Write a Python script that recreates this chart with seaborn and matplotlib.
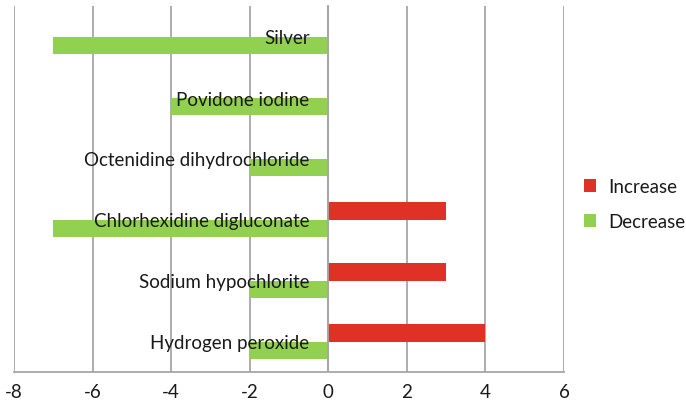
import numpy as np
import pandas as pd
import matplotlib
matplotlib.use('Agg')
import matplotlib.pyplot as plt
import seaborn as sns

# data (top to bottom as shown)
categories = ['Silver', 'Povidone iodine', 'Octenidine dihydrochloride',
              'Chlorhexidine digluconate', 'Sodium hypochlorite', 'Hydrogen peroxide']
increase = [0, 0, 0, 3, 3, 4]
decrease = [-7, -4, -2, -7, -2, -2]
series = ['Increase', 'Decrease']
colors = ['#E03127', '#92D050']
xticks = [-8, -6, -4, -2, 0, 2, 4, 6]

sns.set_style('white')
plt.rcParams['font.family'] = ['Lato', 'DejaVu Sans']
FS = 13.5

df = pd.DataFrame({
    'category': categories * 2,
    'value': increase + decrease,
    'series': ['Increase'] * len(categories) + ['Decrease'] * len(categories),
})

fig = plt.figure(figsize=(6.86, 4.10), dpi=100)
ax = fig.add_axes([14/686, 1 - 373/410, (564 - 14)/686, (373 - 7)/410])

sns.barplot(data=df, y='category', x='value', hue='series', order=categories,
            hue_order=series, palette=colors, orient='h', width=0.56, gap=0,
            saturation=1, edgecolor='none', ax=ax, zorder=2)

ax.set_xlim(-8, 6)
ax.set_ylim(len(categories) - 0.5, -0.5)
ax.set_xticks(xticks)
ax.set_xticklabels([str(v) for v in xticks])
ax.set_xlabel('')
ax.set_ylabel('')

# vertical gridlines behind bars, category axis + labels on top
ax.grid(axis='x', color='#A6A6A6', lw=1.3)
ax.set_axisbelow(True)
ax.yaxis.set_zorder(5)

# category axis sits at x = 0
for s in ['top', 'right']:
    ax.spines[s].set_visible(False)
ax.spines['left'].set_position(('data', 0))
ax.spines['left'].set_color('#A6A6A6')
ax.spines['left'].set_linewidth(1.3)
ax.spines['left'].set_zorder(3)
ax.spines['bottom'].set_color('#A6A6A6')
ax.spines['bottom'].set_linewidth(1.3)

ax.set_yticks(np.arange(len(categories)))
ax.set_yticks(np.arange(len(categories) + 1) - 0.5, minor=True)
ax.tick_params(axis='y', which='major', length=0, pad=13.5, labelsize=FS,
               labelcolor='#1A1A1A')
ax.tick_params(axis='y', which='minor', length=4, width=1.3, color='#A6A6A6',
               direction='out')
ax.tick_params(axis='x', length=5, width=1.3, color='#A6A6A6', pad=3,
               labelsize=FS, labelcolor='#1A1A1A')

handles, labels = ax.get_legend_handles_labels()
ax.get_legend().remove()
fig.legend(handles, labels, loc='center left', bbox_to_anchor=(567/686, 1 - 205/410),
           frameon=False, handlelength=0.64, handleheight=0.64, handletextpad=0.64,
           labelspacing=0.97, fontsize=FS, labelcolor='#1A1A1A')

fig.savefig('out.png', dpi=100)
